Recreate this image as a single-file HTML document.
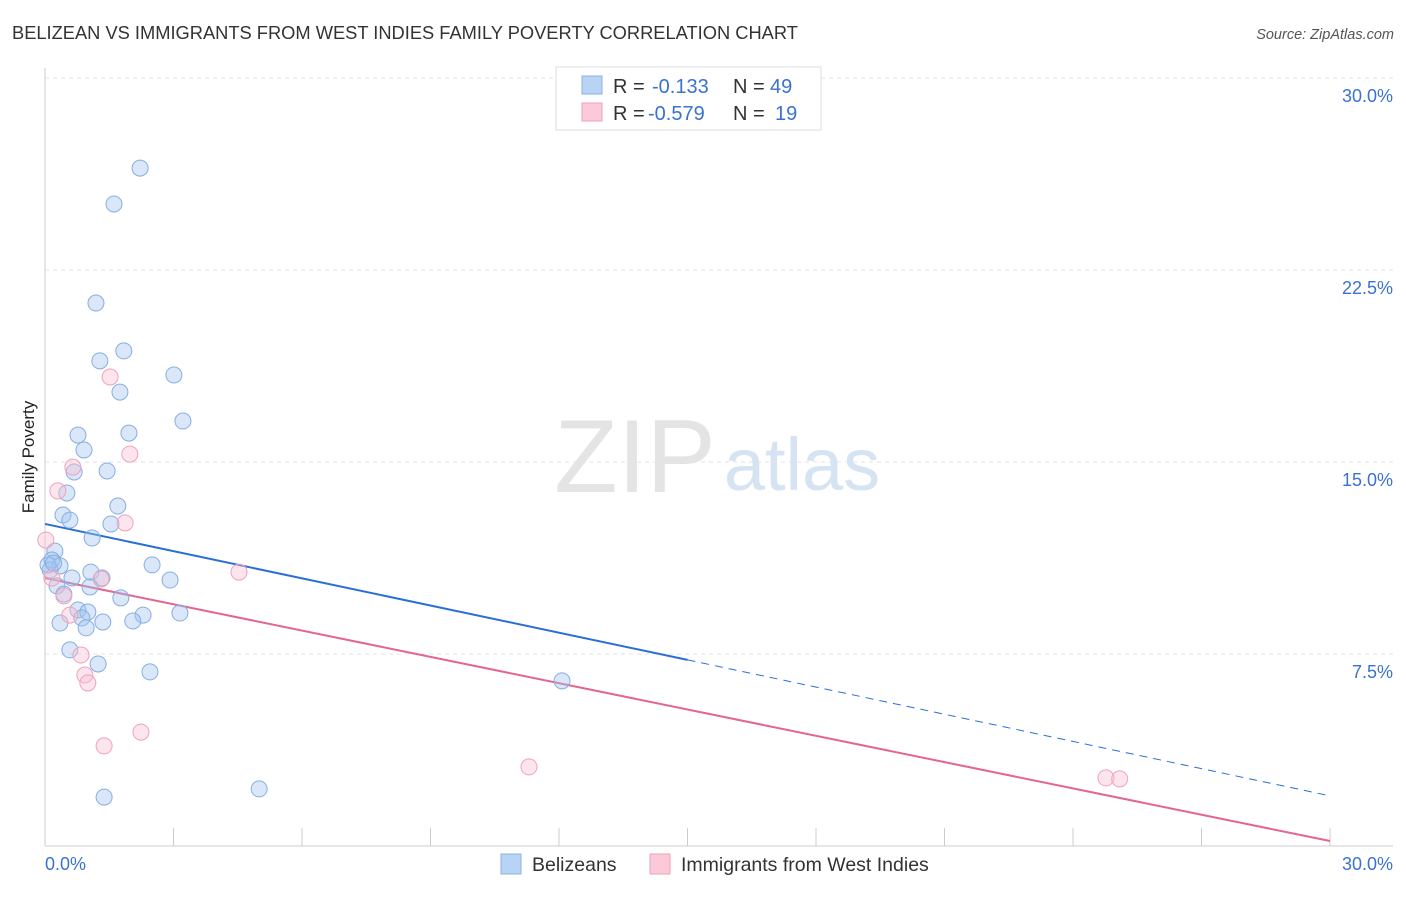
<!DOCTYPE html>
<html><head><meta charset="utf-8"><style>
body{margin:0;background:#fff;font-family:"Liberation Sans",sans-serif;}
svg text{font-family:"Liberation Sans",sans-serif;}
</style></head><body>
<svg id="chart" width="1406" height="892" viewBox="0 0 1406 892">
<text x="12" y="39" font-size="18.3" fill="#333">BELIZEAN VS IMMIGRANTS FROM WEST INDIES FAMILY POVERTY CORRELATION CHART</text>
<text x="1394" y="39" font-size="14.5" fill="#555" font-style="italic" text-anchor="end">Source: ZipAtlas.com</text>
<text x="635" y="492" font-size="104" fill="#e4e4e4" font-family="Liberation Serif" text-anchor="middle">ZIP</text>
<text x="802" y="490" font-size="74" fill="#d6e3f3" text-anchor="middle">atlas</text>
<text x="34" y="457" font-size="17" fill="#222" transform="rotate(-90 34 457)" text-anchor="middle">Family Poverty</text>
<g id="grid"></g><g id="axes"></g><g id="lines"></g><g id="pts"></g>
<g>
<rect x="556" y="67" width="265" height="63" fill="#fff" stroke="#ddd"/>
<rect x="582" y="76" width="20" height="18" fill="#b9d3f5" stroke="#8ab2e8"/>
<rect x="582" y="103" width="20" height="18" fill="#fbc9d8" stroke="#f0a0b8"/>
<text x="613" y="93" font-size="20" fill="#333">R = </text><text x="652" y="93" font-size="20" fill="#3a72d0">-0.133</text>
<text x="733" y="93" font-size="20" fill="#333">N = </text><text x="770" y="93" font-size="20" fill="#3a72d0">49</text>
<text x="613" y="120" font-size="20" fill="#333">R = </text><text x="648" y="120" font-size="20" fill="#3a72d0">-0.579</text>
<text x="733" y="120" font-size="20" fill="#333">N = </text><text x="775" y="120" font-size="20" fill="#3a72d0">19</text>
</g>
<g>
<rect x="501" y="854" width="20" height="20" fill="#b9d3f5" stroke="#8ab2e8"/>
<text x="532" y="871" font-size="19.5" fill="#333">Belizeans</text>
<rect x="650" y="854" width="20" height="20" fill="#fbc9d8" stroke="#f0a0b8"/>
<text x="681" y="871" font-size="19.5" fill="#333">Immigrants from West Indies</text>
</g>
</svg>
<script>
const yTicks=[7.5,15,22.5,30];
const yTickLabels=["7.5%","15.0%","22.5%","30.0%"];
const xTickLabels=["0.0%","30.0%"];
const blueX=[2.22,1.61,1.19,1.84,1.28,3.01,1.75,3.22,0.77,1.96,0.91,0.68,1.45,0.51,1.70,0.42,0.58,1.54,1.10,0.23,0.16,0.35,0.12,2.50,1.07,0.63,1.33,2.92,0.28,1.05,0.44,1.77,0.77,1.00,0.86,2.29,3.15,0.35,1.35,2.05,0.96,0.58,1.24,2.45,12.07,5.00,1.38,0.07,0.20];
const blueY=[26.48,25.08,21.21,19.34,18.95,18.40,17.73,16.60,16.05,16.13,15.47,14.61,14.65,13.79,13.28,12.93,12.73,12.58,12.03,11.52,11.17,10.94,10.78,10.98,10.70,10.47,10.47,10.39,10.16,10.12,9.84,9.69,9.22,9.14,8.91,9.02,9.10,8.71,8.75,8.79,8.52,7.66,7.11,6.80,6.45,2.23,1.91,10.98,11.05];
const pinkX=[1.52,1.98,0.65,0.30,1.87,0.02,4.53,1.31,0.16,0.44,0.58,0.84,0.93,1.00,1.38,2.24,11.30,24.77,25.09];
const pinkY=[18.32,15.31,14.80,13.87,12.62,11.95,10.70,10.43,10.47,9.77,9.02,7.46,6.68,6.37,3.91,4.45,3.09,2.66,2.62];
const blueFit=[12.58,-0.354];
const pinkFit=[10.47,-0.3425];
const sx=v=>45+v/30*1285, sy=v=>846-v/30*768;
const NS="http://www.w3.org/2000/svg";
function mk(p,t,a){const e=document.createElementNS(NS,t);for(const k in a)e.setAttribute(k,a[k]);document.getElementById(p).appendChild(e);return e;}
yTicks.forEach((t,i)=>{
 const g=mk('grid','line',{x1:45,x2:1393,y1:sy(t),y2:sy(t),stroke:'#e3e3e3','stroke-dasharray':'4 4'});
 
 
 const l=mk('axes','text',{x:1393,y:sy(t)+24,'font-size':18,fill:'#3a72d0','text-anchor':'end'});l.textContent=yTickLabels[i];
 
 
});
const ya=mk('axes','line',{x1:45,x2:45,y1:68,y2:846,stroke:'#ccc'});


const xa=mk('axes','line',{x1:45,x2:1393,y1:846,y2:846,stroke:'#ccc'});


for(let i=0;i<=10;i++){const t=mk('axes','line',{x1:sx(i*3),x2:sx(i*3),y1:828,y2:846,stroke:'#ccc'});
 
 }
[[0,'start',45],[30,'end',1393]].forEach((d,i)=>{const l=mk('axes','text',{x:d[2],y:870,'font-size':18,fill:'#3a72d0','text-anchor':d[1]});l.textContent=xTickLabels[i];
 
 });
const f=(fit,x)=>fit[0]+fit[1]*x;
let b1=mk('lines','line',{x1:sx(0),y1:sy(f(blueFit,0)),x2:sx(15),y2:sy(f(blueFit,15)),stroke:'#2a6fd6','stroke-width':2});


let b2=mk('lines','line',{x1:sx(15),y1:sy(f(blueFit,15)),x2:sx(29.9),y2:sy(f(blueFit,29.9)),stroke:'#2a6fd6','stroke-width':1,'stroke-dasharray':'8 6'});


let p1=mk('lines','line',{x1:sx(0),y1:sy(f(pinkFit,0)),x2:sx(30),y2:sy(f(pinkFit,30)),stroke:'#e4658f','stroke-width':2});


blueX.forEach((x,i)=>{const c=mk('pts','circle',{cx:sx(x),cy:sy(blueY[i]),r:8,fill:'rgba(160,196,240,0.4)',stroke:'#86aee2'});
 
 });
pinkX.forEach((x,i)=>{const c=mk('pts','circle',{cx:sx(x),cy:sy(pinkY[i]),r:8,fill:'rgba(250,190,210,0.4)',stroke:'#efa2bb'});
 
 });
</script>
</body></html>
